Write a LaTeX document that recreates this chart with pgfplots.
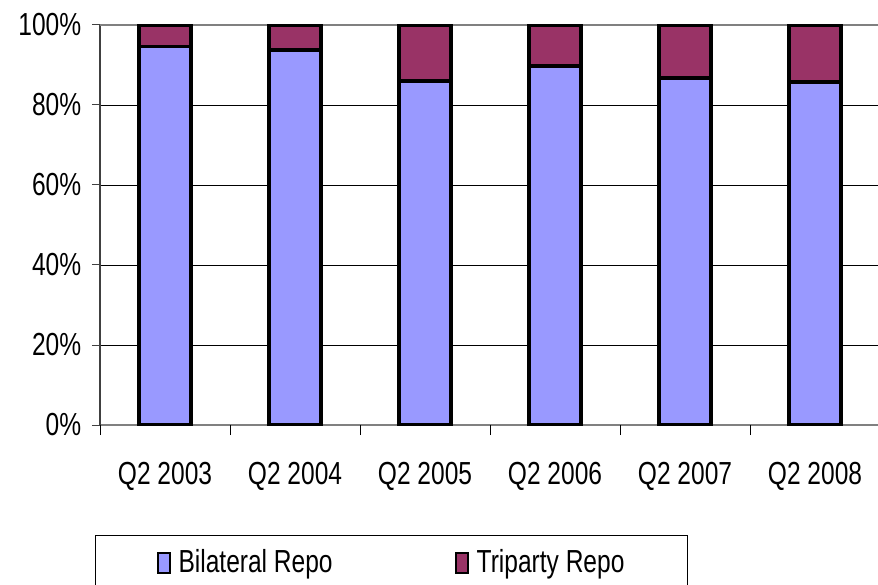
\documentclass[border=0pt]{standalone}
\usepackage{fontspec}
\setmainfont{Liberation Sans}[FakeStretch=0.77]
\usepackage{pgfplots}
\pgfplotsset{compat=1.18}
\definecolor{bilat}{HTML}{9999FF}
\definecolor{tri}{HTML}{993366}
\definecolor{axgray}{HTML}{404040}
\pgfplotsset{sqleg/.style={legend image code/.code={%
  \draw[##1, draw=black, line width=2bp] (0bp,-10bp) rectangle (12bp,10bp);}}}

\begin{document}
\fontsize{32}{38}\selectfont
\begin{tikzpicture}
\begin{axis}[
  scale only axis, width=780bp, height=400bp,
  ybar stacked, bar width=52bp,
  xmin=-0.5, xmax=5.5, ymin=0, ymax=100,
  axis x line*=bottom, axis y line*=left,
  x axis line style={-, draw=gray, line width=1.5bp},
  y axis line style={-, draw=axgray, line width=1.5bp},
  xtick={0,...,5},
  xticklabels={Q2 2003,Q2 2004,Q2 2005,Q2 2006,Q2 2007,Q2 2008},
  major x tick style={draw=none},
  xticklabel style={yshift=-18bp},
  extra x ticks={-0.5,0.5,1.5,2.5,3.5,4.5},
  extra x tick labels={},
  extra x tick style={major x tick style={draw=black, line width=0.8bp}, major tick length=10bp, tick align=outside, xmajorgrids=false},
  ytick={0,20,40,60,80},
  yticklabel={\pgfmathprintnumber{\tick}\%},
  extra y ticks={100}, extra y tick labels={100\%},
  extra y tick style={major grid style={draw=gray, line width=2bp}},
  ymajorgrids, major grid style={draw=black, line width=0.8bp},
  tick align=outside, major tick length=8bp,
  major y tick style={draw=axgray, line width=1bp},
  /pgf/number format/assume math mode=true,
  legend columns=2, legend cell align=left,
  legend style={at={(rel axis cs:-0.0064,-0.275)}, anchor=north west,
    draw=black, line width=1bp, inner xsep=61bp, inner ysep=12bp,
    /tikz/every odd column/.append style={column sep=6bp},
    /tikz/every even column/.append style={column sep=120bp}},
]
\addplot[fill=bilat, draw=black, line width=3.5bp, sqleg]
  coordinates {(0,94.6) (1,93.7) (2,86.0) (3,89.8) (4,86.7) (5,85.8)};
\addplot[fill=tri, draw=black, line width=3.5bp, sqleg]
  coordinates {(0,5.4) (1,6.3) (2,14.0) (3,10.2) (4,13.3) (5,14.2)};
\legend{Bilateral Repo, Triparty Repo}
\coordinate (o) at (rel axis cs:0,0);
\end{axis}
\pgfresetboundingbox
\path ([shift={(-100bp,-160bp)}]o) rectangle ([shift={(778bp,425bp)}]o);
\end{tikzpicture}
\end{document}
